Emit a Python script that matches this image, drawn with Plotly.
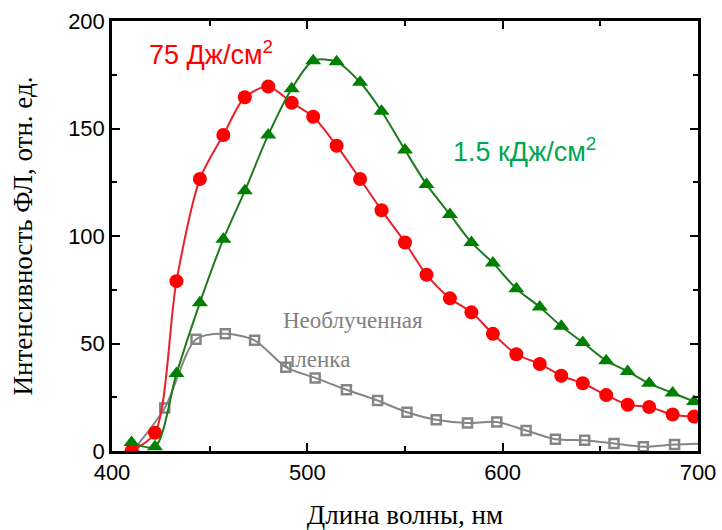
import plotly.graph_objects as go

# Data
wavelength = [410, 422, 433, 445, 457, 468, 480, 492, 503, 515, 527, 538, 550,
              561, 573, 584, 595, 607, 619, 630, 641, 653, 664, 675, 687, 698]
fl_75 = [0, 8.5, 79, 126.5, 147, 164.5, 169.5, 162, 155.5, 142, 126.5, 112, 97,
         82, 71, 64.5, 54.5, 45, 40.5, 35, 31.5, 26, 21.5, 20.5, 17, 16]
fl_1500 = [4, 2, 36, 69, 98.5, 121, 147, 168.5, 181.5, 181, 171.5, 158, 140,
           124, 110, 97, 87.5, 75.5, 67, 58, 50.5, 42, 37, 31.5, 27, 23]

wavelength_ref = [411, 427, 443, 458, 473, 489, 504, 520, 536, 551, 566, 582,
                  597, 612, 627, 642, 657, 672, 688, 703]
fl_ref = [0.5, 20, 52, 54.5, 51.5, 39, 34, 28.5, 23.5, 18, 14.5, 13,
          13.5, 9.5, 5.5, 5, 3.5, 2, 3, 3.5]

x_ticks = [400, 500, 600, 700]
y_ticks = [0, 50, 100, 150, 200]

label_75 = "75 Дж/см<sup>2</sup>"
label_1500 = "1.5 кДж/см<sup>2</sup>"
label_ref_1 = "Необлученная"
label_ref_2 = "пленка"
x_title = "Длина волны, нм"
y_title = "Интенсивность ФЛ, отн. ед."

fig = go.Figure()

fig.add_trace(go.Scatter(
    x=wavelength_ref, y=fl_ref, mode="lines+markers",
    line=dict(color="#858585", width=2, shape="spline", smoothing=0.8),
    marker=dict(symbol="square-open", size=9, color="#858585",
                line=dict(width=2.5, color="#858585")),
    showlegend=False))

fig.add_trace(go.Scatter(
    x=wavelength, y=fl_75, mode="lines+markers",
    line=dict(color="#e8202a", width=2, shape="spline", smoothing=0.8),
    marker=dict(symbol="circle", size=14, color="#ff0000"),
    showlegend=False))

fig.add_trace(go.Scatter(
    x=wavelength, y=fl_1500, mode="lines+markers",
    line=dict(color="#1f7a1f", width=2, shape="spline", smoothing=0.8),
    marker=dict(symbol="triangle-up", size=14, color="#008000"),
    showlegend=False))

fig.add_annotation(x=418, y=185, xref="x", yref="y", text=label_75,
                   showarrow=False, xanchor="left", yanchor="middle",
                   font=dict(family="Liberation Sans, Arial", size=27, color="#ff0000"))
fig.add_annotation(x=573.5, y=140, xref="x", yref="y", text=label_1500,
                   showarrow=False, xanchor="left", yanchor="middle",
                   font=dict(family="Liberation Sans, Arial", size=27, color="#00a651"))
fig.add_annotation(x=486.5, y=60.5, xref="x", yref="y", text=label_ref_1,
                   showarrow=False, xanchor="left", yanchor="middle",
                   font=dict(family="Liberation Serif, Times New Roman", size=23, color="#808080"))
fig.add_annotation(x=486.5, y=42.5, xref="x", yref="y", text=label_ref_2,
                   showarrow=False, xanchor="left", yanchor="middle",
                   font=dict(family="Liberation Serif, Times New Roman", size=23, color="#808080"))

axis_common = dict(
    showline=True, linecolor="black", linewidth=2.5, mirror="allticks",
    ticks="inside", ticklen=8, tickwidth=2, tickcolor="black",
    showgrid=False, zeroline=False, automargin=False,
    tickfont=dict(family="Liberation Sans, Arial", size=22, color="black"),
)

fig.update_xaxes(range=[400, 700], tickvals=x_ticks, ticktext=[str(v) for v in x_ticks],
                 minor=dict(dtick=50, tick0=400, ticks="inside", ticklen=5, tickwidth=2, tickcolor="black"),
                 title=dict(text=x_title, standoff=24,
                            font=dict(family="Liberation Serif, Times New Roman", size=27, color="black")),
                 **axis_common)
fig.update_yaxes(range=[0, 200], tickvals=y_ticks, ticktext=[str(v) for v in y_ticks],
                 minor=dict(dtick=25, tick0=0, ticks="inside", ticklen=5, tickwidth=2, tickcolor="black"),
                 title=dict(text=y_title, standoff=28,
                            font=dict(family="Liberation Serif, Times New Roman", size=27, color="black")),
                 **axis_common)

fig.update_layout(
    width=722, height=530,
    margin=dict(l=112, r=24, t=21, b=79),
    paper_bgcolor="white", plot_bgcolor="white",
)

fig.write_html("out.html")
